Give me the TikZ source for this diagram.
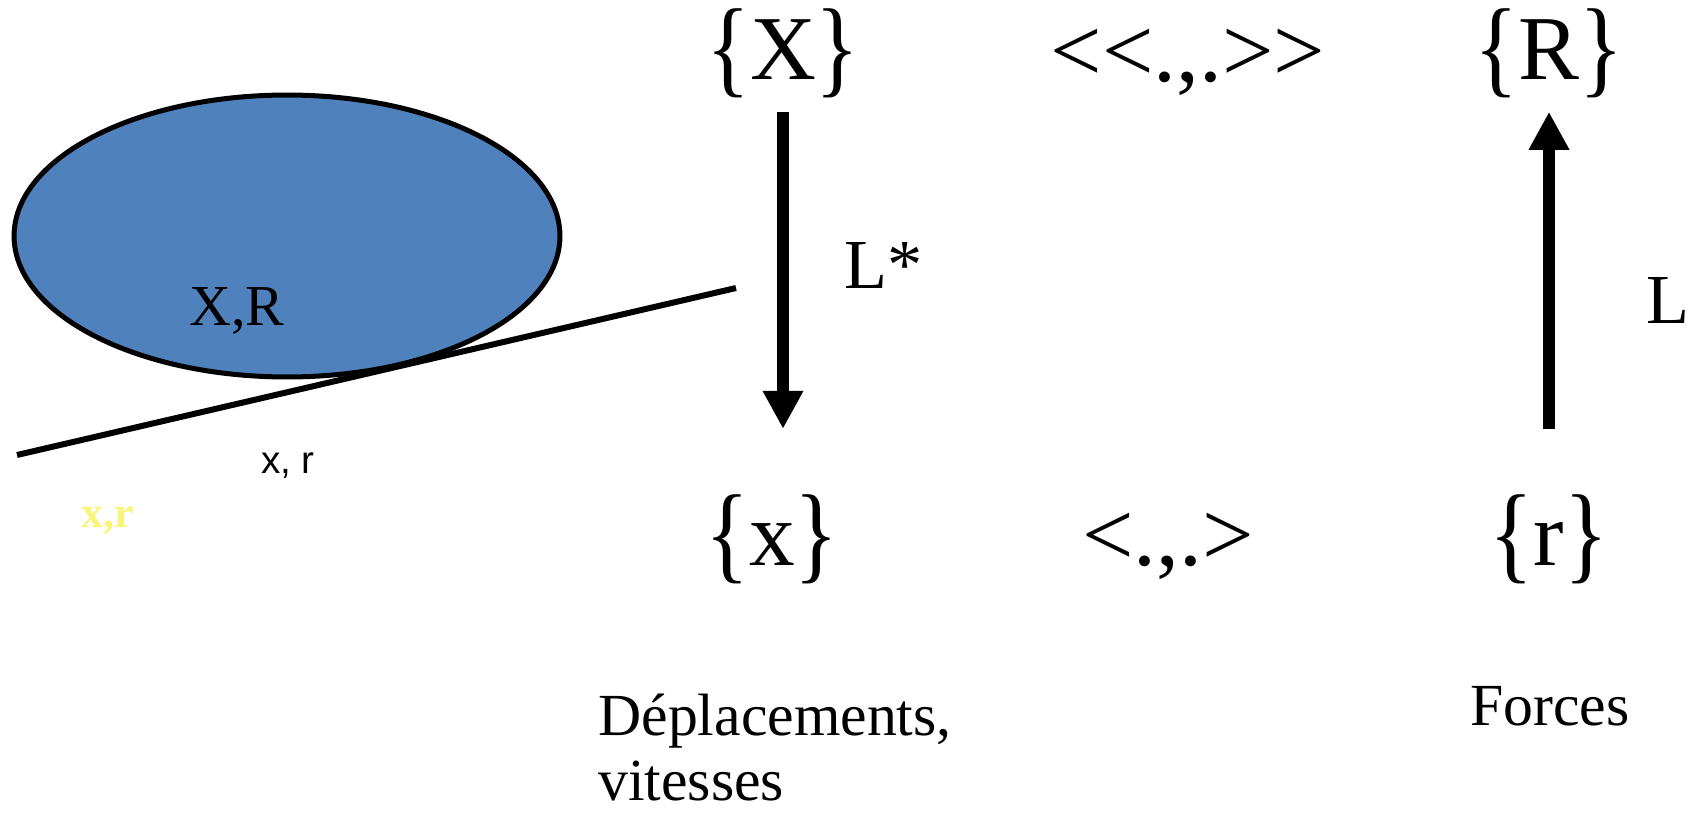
\documentclass[tikz,border=0pt]{standalone}
\usepackage{fontspec}
\setmainfont{Liberation Serif}
\newfontfamily\timesfont{Liberation Serif}
\newfontfamily\arialfont{Liberation Sans}
\usepackage{xcolor}
\usepackage{graphicx}
\usetikzlibrary{shapes.geometric, arrows.meta, positioning}

\definecolor{bodyblue}{RGB}{79,129,189}
\definecolor{paleyellow}{RGB}{248,245,120}

% tall braces round the spaces
\newcommand{\obr}{\raisebox{-0.08cm}{\scalebox{1}[1.18]{\{}}}
\newcommand{\cbr}{\raisebox{-0.08cm}{\scalebox{1}[1.18]{\}}}}

\begin{document}
\begin{tikzpicture}[
    x=0.02cm, y=-0.02cm,
    space/.style={inner sep=0pt, anchor=base, font=\timesfont\fontsize{52}{60}\selectfont},
    oplabel/.style={inner sep=0pt, anchor=base, font=\timesfont\fontsize{40}{46}\selectfont},
    caption/.style={inner sep=0pt, font=\timesfont\fontsize{34}{37}\selectfont, align=left},
    body/.style={ellipse, draw=black, line width=0.1cm, fill=bodyblue, inner sep=0pt, minimum width=10.92cm, minimum height=5.64cm},
    bigarrow/.style={line width=0.25cm, -{Triangle[width=0.76cm, length=0.76cm]}},
]
    \path[use as bounding box, fill=white] (0,0) rectangle (1697,818);

    % solid on the ground
    \node[body] (solid) at (287,236) {};
    \coordinate (g1) at (17,455);
    \coordinate (g2) at (736,288);
    \draw[line width=0.12cm] (g1) -- (g2);
    \node[inner sep=0pt, anchor=base, font=\timesfont\fontsize{33}{38}\selectfont] (XR) at (237,325) {X,R};
    \node[inner sep=0pt, anchor=base, font=\arialfont\fontsize{22}{26}\selectfont] (xr) at (288,473) {x, r};
    \node[inner sep=0pt, anchor=base, text=paleyellow, font=\timesfont\bfseries\fontsize{25}{29}\selectfont] (xryel) at (108,527) {x,r};

    % spaces and pairings
    \node[space] (X) at (783,79) {\obr X\cbr};
    \node[space] (dual) at (1188,81) {<<.,.>>};
    \node[space] (R) at (1549,79) {\obr R\cbr};
    \node[space] (x) at (772,565) {\obr x\cbr};
    \node[space] (pair) at (1168,565) {<.,.>};
    \node[space] (r) at (1549,565) {\obr r\cbr};

    \draw[bigarrow, shorten <=0.28cm, shorten >=1.3cm] (X.south) -- (X.south |- x.north);
    \draw[bigarrow, shorten <=1.3cm, shorten >=0.28cm] (r.north) -- (r.north |- R.south);

    \node[oplabel] (Lstar) at (884,288) {L*};
    \node[oplabel] (L) at (1668,323) {L};

    \node[caption, anchor=base west] (disp) at (598,800) {Déplacements,\\vitesses};
    \node[caption, anchor=base] (forces) at (1550,725) {Forces};
\end{tikzpicture}
\end{document}
